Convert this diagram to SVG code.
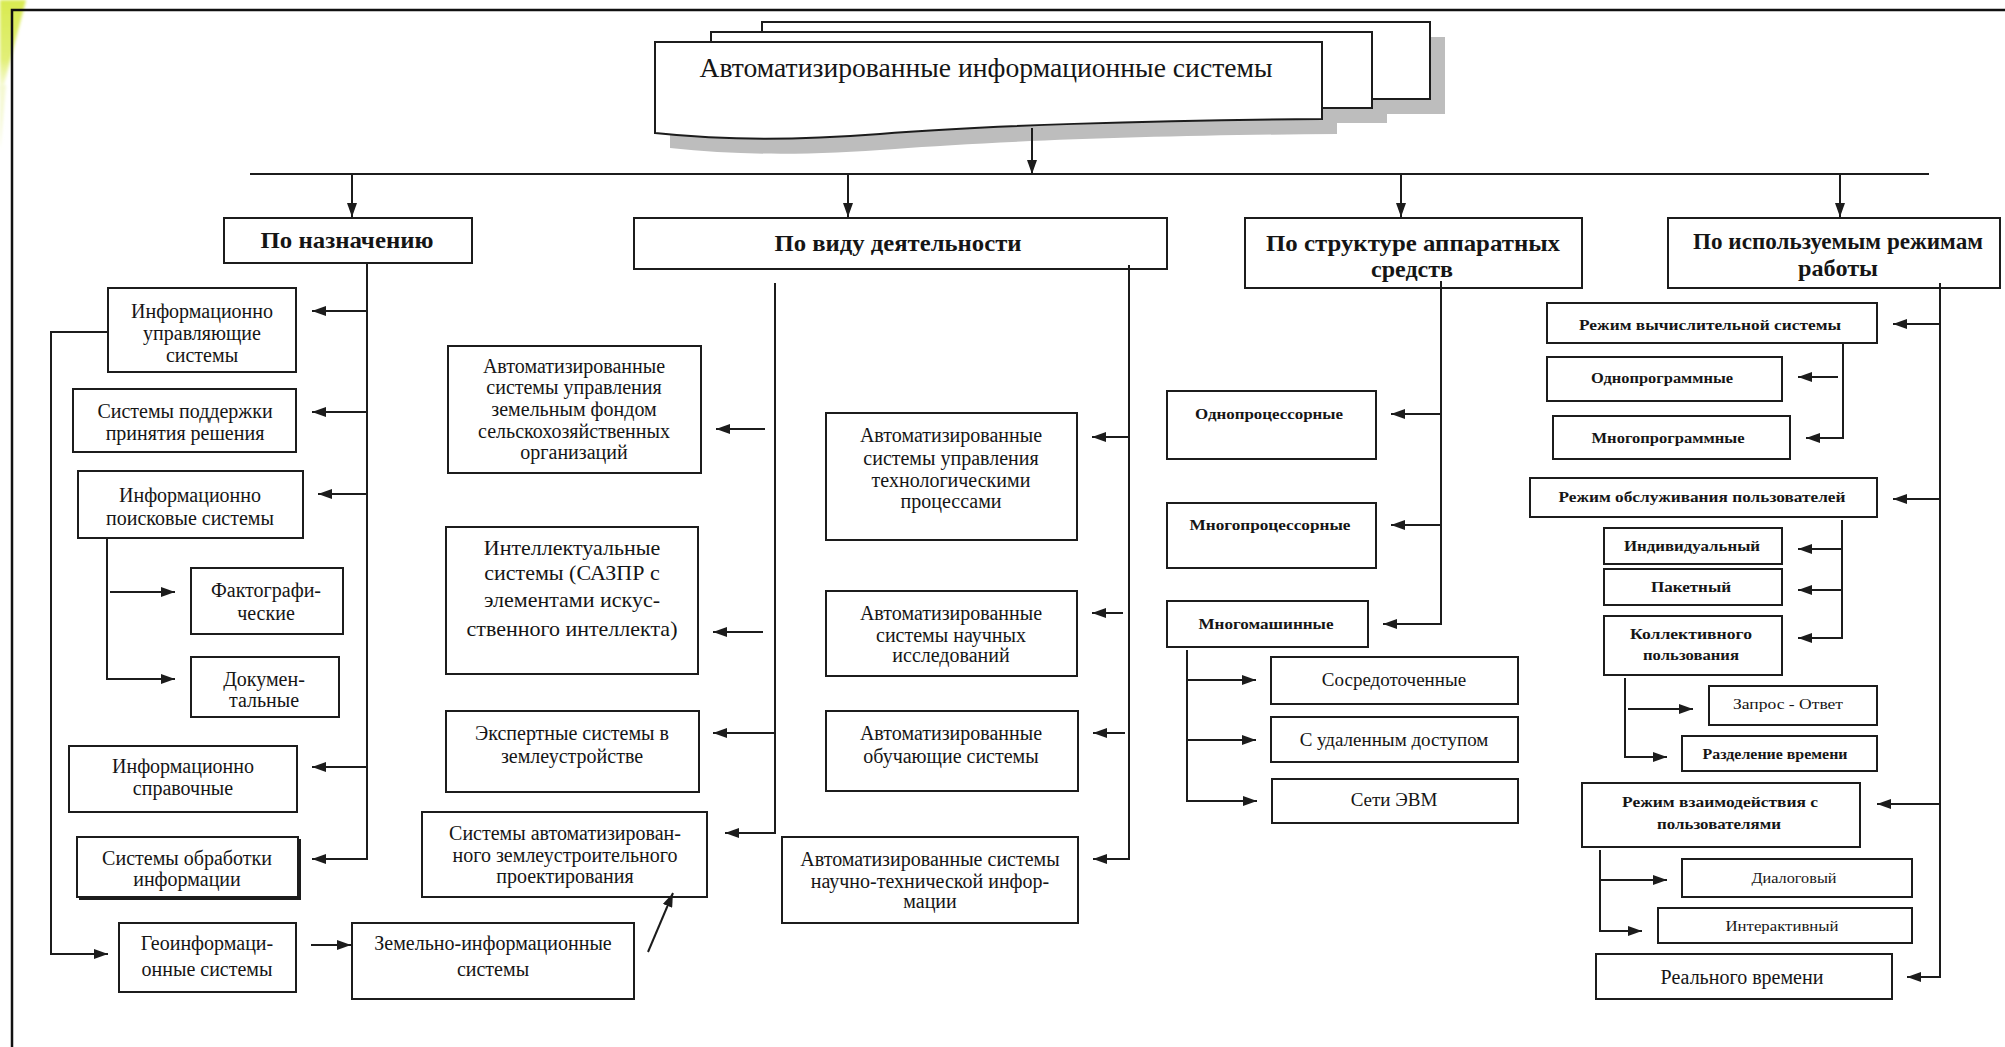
<svg xmlns="http://www.w3.org/2000/svg" width="2005" height="1047" viewBox="0 0 2005 1047">
  <style>
    .box { fill: #fff; stroke: #1c1c1c; stroke-width: 2; }
    .shadow { fill: #bdbdbd; stroke: none; }
    .ln { fill: none; stroke: #1c1c1c; stroke-width: 2; }
    .ar { fill: none; stroke: #1c1c1c; stroke-width: 2; marker-end: url(#ah); }
    text { font-family: "Liberation Serif", "Times New Roman", serif; fill: #151515; text-anchor: middle; }
    .t { font-size: 20px; }
    .tl { font-size: 22px; }
    .tm { font-size: 19px; }
    .hd { font-size: 24px; font-weight: bold; }
    .sb { font-size: 15px; font-weight: bold; }
    .sr { font-size: 15px; }
    .ttl { font-size: 28px; }
  </style>
  <defs>
    <marker id="ah" viewBox="0 0 14 10" refX="14" refY="5" markerWidth="14" markerHeight="10" markerUnits="userSpaceOnUse" orient="auto">
      <path d="M0,0 L14,5 L0,10 z" fill="#1c1c1c"/>
    </marker>
    <linearGradient id="glow" x1="0" y1="0" x2="0" y2="1">
      <stop offset="0" stop-color="#d8ea50"/>
      <stop offset="0.6" stop-color="#e2ef78"/>
      <stop offset="1" stop-color="#f6fad2" stop-opacity="0.4"/>
    </linearGradient>
    <filter id="soft" x="-50%" y="-50%" width="200%" height="200%">
      <feGaussianBlur stdDeviation="1.5"/>
    </filter>
  </defs>

  <rect width="2005" height="1047" fill="#fff"/>

  <!-- page corner tint and frame -->
  <polygon points="0,0 26,0 0,100" fill="url(#glow)" filter="url(#soft)"/>
  <polygon points="0,85 6,85 0,150" fill="#f4f8d2" filter="url(#soft)"/>
  <path d="M12,1047 V10 H2005" fill="none" stroke="#111" stroke-width="2.5"/>

  <!-- root: stacked document shape -->
  <g id="root">
    <rect class="shadow" x="777" y="37" width="668" height="77"/>
    <rect class="shadow" x="726" y="47" width="661" height="76"/>
    <path class="shadow" transform="translate(15,15)" d="M655,42 H1322 V119 C1150,120 980,126 880,134 C800,140 730,141 655,133 Z"/>
    <rect class="box" x="762" y="22" width="668" height="77"/>
    <rect class="box" x="711" y="32" width="661" height="76"/>
    <path class="box" d="M655,42 H1322 V119 C1150,120 980,126 880,134 C800,140 730,141 655,133 Z"/>
    <text class="ttl" x="986" y="77" textLength="573" lengthAdjust="spacingAndGlyphs">Автоматизированные информационные системы</text>
  </g>

  <!-- category headers -->
  <g id="cat-purpose">
    <rect class="box" x="224" y="218" width="248" height="45"/>
    <text class="hd" x="347" y="248" textLength="173" lengthAdjust="spacingAndGlyphs">По назначению</text>
  </g>
  <g id="cat-activity">
    <rect class="box" x="634" y="218" width="533" height="51"/>
    <text class="hd" x="898" y="251" textLength="247" lengthAdjust="spacingAndGlyphs">По виду деятельности</text>
  </g>
  <g id="cat-hardware">
    <rect class="box" x="1245" y="218" width="337" height="70"/>
    <text class="hd" x="1413" y="251" textLength="294" lengthAdjust="spacingAndGlyphs">По структуре аппаратных</text>
    <text class="hd" x="1412" y="277" textLength="82" lengthAdjust="spacingAndGlyphs">средств</text>
  </g>
  <g id="cat-modes">
    <rect class="box" x="1668" y="218" width="332" height="70"/>
    <text class="hd" x="1838" y="249" textLength="290" lengthAdjust="spacingAndGlyphs">По используемым режимам</text>
    <text class="hd" x="1838" y="276" textLength="80" lengthAdjust="spacingAndGlyphs">работы</text>
  </g>

  <!-- column: by purpose -->
  <g id="n-ius">
    <rect class="box" x="108" y="288" width="188" height="84"/>
    <text class="t" x="202" y="318">Информационно</text>
    <text class="t" x="202" y="340">управляющие</text>
    <text class="t" x="202" y="362">системы</text>
  </g>
  <g id="n-sppr">
    <rect class="box" x="73" y="389" width="223" height="63"/>
    <text class="t" x="185" y="418">Системы поддержки</text>
    <text class="t" x="185" y="440">принятия решения</text>
  </g>
  <g id="n-ips">
    <rect class="box" x="78" y="471" width="225" height="67"/>
    <text class="t" x="190" y="502">Информационно</text>
    <text class="t" x="190" y="525">поисковые системы</text>
  </g>
  <g id="n-fact">
    <rect class="box" x="191" y="568" width="152" height="66"/>
    <text class="t" x="266" y="597">Фактографи-</text>
    <text class="t" x="266" y="620">ческие</text>
  </g>
  <g id="n-doc">
    <rect class="box" x="191" y="657" width="148" height="60"/>
    <text class="t" x="264" y="686">Докумен-</text>
    <text class="t" x="264" y="707">тальные</text>
  </g>
  <g id="n-spr">
    <rect class="box" x="69" y="746" width="228" height="66"/>
    <text class="t" x="183" y="773">Информационно</text>
    <text class="t" x="183" y="795">справочные</text>
  </g>
  <g id="n-obr">
    <rect class="box" x="77" y="837" width="221" height="60"/>
    <path class="ln" d="M79,899 H300 V839"/>
    <text class="t" x="187" y="865">Системы обработки</text>
    <text class="t" x="187" y="886">информации</text>
  </g>
  <g id="n-gis">
    <rect class="box" x="119" y="923" width="177" height="69"/>
    <text class="t" x="207" y="950">Геоинформаци-</text>
    <text class="t" x="207" y="976">онные системы</text>
  </g>
  <g id="n-zis">
    <rect class="box" x="352" y="923" width="282" height="76"/>
    <text class="t" x="493" y="950">Земельно-информационные</text>
    <text class="t" x="493" y="976">системы</text>
  </g>

  <!-- column: by activity, left -->
  <g id="n-asuzf">
    <rect class="box" x="448" y="346" width="253" height="127"/>
    <text class="t" x="574" y="373">Автоматизированные</text>
    <text class="t" x="574" y="394">системы управления</text>
    <text class="t" x="574" y="416">земельным фондом</text>
    <text class="t" x="574" y="438">сельскохозяйственных</text>
    <text class="t" x="574" y="459">организаций</text>
  </g>
  <g id="n-intel">
    <rect class="box" x="446" y="527" width="252" height="147"/>
    <text class="tl" x="572" y="555">Интеллектуальные</text>
    <text class="tl" x="572" y="580">системы (САЗПР с</text>
    <text class="tl" x="572" y="607">элементами искус-</text>
    <text class="tl" x="572" y="636">ственного интеллекта)</text>
  </g>
  <g id="n-expert">
    <rect class="box" x="446" y="711" width="253" height="81"/>
    <text class="t" x="572" y="740">Экспертные системы в</text>
    <text class="t" x="572" y="763">землеустройстве</text>
  </g>
  <g id="n-sazpr">
    <rect class="box" x="422" y="812" width="285" height="85"/>
    <text class="t" x="565" y="840">Системы автоматизирован-</text>
    <text class="t" x="565" y="862">ного землеустроительного</text>
    <text class="t" x="565" y="883">проектирования</text>
  </g>

  <!-- column: by activity, right -->
  <g id="n-asutp">
    <rect class="box" x="826" y="413" width="251" height="127"/>
    <text class="t" x="951" y="442">Автоматизированные</text>
    <text class="t" x="951" y="465">системы управления</text>
    <text class="t" x="951" y="487">технологическими</text>
    <text class="t" x="951" y="508">процессами</text>
  </g>
  <g id="n-asni">
    <rect class="box" x="826" y="591" width="251" height="85"/>
    <text class="t" x="951" y="620">Автоматизированные</text>
    <text class="t" x="951" y="642">системы научных</text>
    <text class="t" x="951" y="662">исследований</text>
  </g>
  <g id="n-aos">
    <rect class="box" x="826" y="711" width="252" height="80"/>
    <text class="t" x="951" y="740">Автоматизированные</text>
    <text class="t" x="951" y="763">обучающие системы</text>
  </g>
  <g id="n-asnti">
    <rect class="box" x="782" y="837" width="296" height="86"/>
    <text class="t" x="930" y="866">Автоматизированные системы</text>
    <text class="t" x="930" y="888">научно-технической инфор-</text>
    <text class="t" x="930" y="908">мации</text>
  </g>

  <!-- column: hardware structure -->
  <g id="n-single-cpu">
    <rect class="box" x="1167" y="391" width="209" height="68"/>
    <text class="sb" x="1269" y="419" textLength="148" lengthAdjust="spacingAndGlyphs">Однопроцессорные</text>
  </g>
  <g id="n-multi-cpu">
    <rect class="box" x="1167" y="503" width="209" height="65"/>
    <text class="sb" x="1270" y="530" textLength="161" lengthAdjust="spacingAndGlyphs">Многопроцессорные</text>
  </g>
  <g id="n-multi-machine">
    <rect class="box" x="1167" y="601" width="201" height="46"/>
    <text class="sb" x="1266" y="629" textLength="135" lengthAdjust="spacingAndGlyphs">Многомашинные</text>
  </g>
  <g id="n-central">
    <rect class="box" x="1271" y="657" width="247" height="47"/>
    <text class="tm" x="1394" y="686">Сосредоточенные</text>
  </g>
  <g id="n-remote">
    <rect class="box" x="1271" y="717" width="247" height="45"/>
    <text class="tm" x="1394" y="746">С удаленным доступом</text>
  </g>
  <g id="n-net">
    <rect class="box" x="1272" y="779" width="246" height="44"/>
    <text class="tm" x="1394" y="806">Сети ЭВМ</text>
  </g>

  <!-- column: operating modes -->
  <g id="n-mode-comp">
    <rect class="box" x="1547" y="303" width="330" height="40"/>
    <text class="sb" x="1710" y="330" textLength="262" lengthAdjust="spacingAndGlyphs">Режим вычислительной системы</text>
  </g>
  <g id="n-single-prog">
    <rect class="box" x="1547" y="357" width="235" height="44"/>
    <text class="sb" x="1662" y="383" textLength="142" lengthAdjust="spacingAndGlyphs">Однопрограммные</text>
  </g>
  <g id="n-multi-prog">
    <rect class="box" x="1553" y="416" width="237" height="43"/>
    <text class="sb" x="1668" y="443" textLength="153" lengthAdjust="spacingAndGlyphs">Многопрограммные</text>
  </g>
  <g id="n-mode-service">
    <rect class="box" x="1530" y="478" width="347" height="39"/>
    <text class="sb" x="1702" y="502" textLength="287" lengthAdjust="spacingAndGlyphs">Режим обслуживания пользователей</text>
  </g>
  <g id="n-individual">
    <rect class="box" x="1604" y="528" width="178" height="36"/>
    <text class="sb" x="1692" y="551" textLength="136" lengthAdjust="spacingAndGlyphs">Индивидуальный</text>
  </g>
  <g id="n-batch">
    <rect class="box" x="1604" y="569" width="178" height="36"/>
    <text class="sb" x="1691" y="592" textLength="80" lengthAdjust="spacingAndGlyphs">Пакетный</text>
  </g>
  <g id="n-collective">
    <rect class="box" x="1604" y="616" width="178" height="59"/>
    <text class="sb" x="1691" y="639" textLength="122" lengthAdjust="spacingAndGlyphs">Коллективного</text>
    <text class="sb" x="1691" y="660" textLength="96" lengthAdjust="spacingAndGlyphs">пользования</text>
  </g>
  <g id="n-request">
    <rect class="box" x="1709" y="686" width="168" height="39"/>
    <text class="sr" x="1788" y="709" textLength="110" lengthAdjust="spacingAndGlyphs">Запрос - Ответ</text>
  </g>
  <g id="n-timeshare">
    <rect class="box" x="1682" y="736" width="195" height="35"/>
    <text class="sb" x="1775" y="759" textLength="145" lengthAdjust="spacingAndGlyphs">Разделение времени</text>
  </g>
  <g id="n-mode-interact">
    <rect class="box" x="1582" y="783" width="278" height="64"/>
    <text class="sb" x="1720" y="807" textLength="196" lengthAdjust="spacingAndGlyphs">Режим взаимодействия  с</text>
    <text class="sb" x="1719" y="829" textLength="124" lengthAdjust="spacingAndGlyphs">пользователями</text>
  </g>
  <g id="n-dialog">
    <rect class="box" x="1682" y="859" width="230" height="38"/>
    <text class="sr" x="1794" y="883" textLength="85" lengthAdjust="spacingAndGlyphs">Диалоговый</text>
  </g>
  <g id="n-interactive">
    <rect class="box" x="1658" y="908" width="254" height="35"/>
    <text class="sr" x="1782" y="931" textLength="113" lengthAdjust="spacingAndGlyphs">Интерактивный</text>
  </g>
  <g id="n-realtime">
    <rect class="box" x="1596" y="954" width="296" height="45"/>
    <text class="t" x="1742" y="984">Реального времени</text>
  </g>

  <!-- connectors -->
  <g id="connectors">
    <!-- root to bus -->
    <path class="ar" d="M1032,128 V174"/>
    <path class="ln" d="M250,174 H1929"/>
    <path class="ar" d="M352,174 V217"/>
    <path class="ar" d="M848,174 V217"/>
    <path class="ar" d="M1401,174 V217"/>
    <path class="ar" d="M1840,174 V217"/>

    <!-- by purpose -->
    <path class="ar" d="M367,263 V859 H312" stroke-width="2.5"/>
    <path class="ar" d="M367,311 H312"/>
    <path class="ar" d="M367,412 H312"/>
    <path class="ar" d="M367,494 H318"/>
    <path class="ar" d="M367,767 H312"/>
    <path class="ar" d="M108,332 H51 V954 H108"/>
    <path class="ar" d="M107,538 V679 H175"/>
    <path class="ar" d="M110,592 H175"/>
    <path class="ar" d="M311,945 H351"/>
    <path class="ar" d="M648,952 L673,893"/>

    <!-- by activity -->
    <path class="ar" d="M775,283 V833 H725"/>
    <path class="ar" d="M765,429 H716"/>
    <path class="ar" d="M763,632 H713"/>
    <path class="ar" d="M775,733 H713"/>
    <path class="ar" d="M1129,265 V859 H1093"/>
    <path class="ar" d="M1129,437 H1092"/>
    <path class="ar" d="M1123,613 H1092"/>
    <path class="ar" d="M1125,733 H1093"/>

    <!-- hardware structure -->
    <path class="ar" d="M1441,281 V624 H1383"/>
    <path class="ar" d="M1441,414 H1391"/>
    <path class="ar" d="M1441,525 H1391"/>
    <path class="ar" d="M1187,650 V801 H1257"/>
    <path class="ar" d="M1187,680 H1256"/>
    <path class="ar" d="M1187,740 H1256"/>

    <!-- operating modes -->
    <path class="ar" d="M1940,283 V977 H1907"/>
    <path class="ar" d="M1940,324 H1893"/>
    <path class="ar" d="M1940,499 H1893"/>
    <path class="ar" d="M1940,804 H1877"/>
    <path class="ar" d="M1843,342 V438 H1806"/>
    <path class="ar" d="M1838,377 H1798"/>
    <path class="ar" d="M1842,520 V638 H1798"/>
    <path class="ar" d="M1842,549 H1798"/>
    <path class="ar" d="M1842,590 H1798"/>
    <path class="ar" d="M1625,678 V757 H1667"/>
    <path class="ar" d="M1628,709 H1693"/>
    <path class="ar" d="M1600,850 V931 H1642"/>
    <path class="ar" d="M1600,880 H1667"/>
  </g>
</svg>
